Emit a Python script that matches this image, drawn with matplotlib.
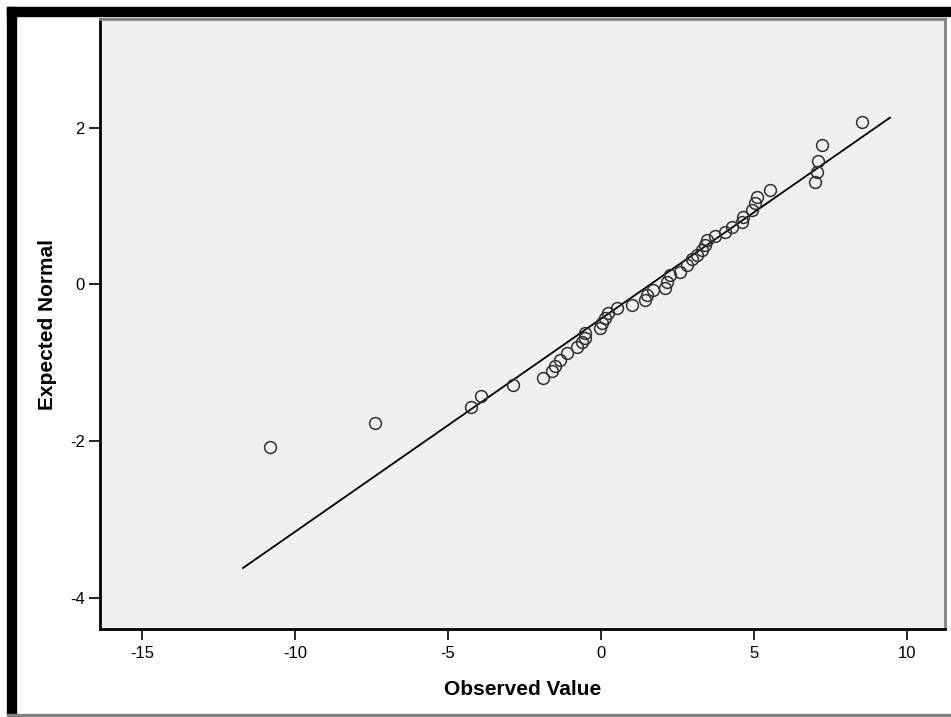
import matplotlib
matplotlib.use("Agg")
import matplotlib.pyplot as plt
from matplotlib.patches import Rectangle

plt.rcParams['font.family'] = ['Liberation Sans', 'DejaVu Sans']
plt.rcParams['axes.unicode_minus'] = False

observed = [-10.82, -7.39, -4.25, -3.92, -2.88, -1.90, -1.60, -1.50, -1.34, -1.11,
            -0.78, -0.62, -0.52, -0.52, -0.03, 0.03, 0.13, 0.23, 0.52, 1.01,
            1.44, 1.50, 1.70, 2.09, 2.16, 2.25, 2.58, 2.81, 2.97, 3.14,
            3.30, 3.40, 3.46, 3.73, 4.05, 4.28, 4.61, 4.64, 4.93, 5.03,
            5.10, 5.52, 6.99, 7.06, 7.09, 7.22, 8.53]
expected = [-2.07, -1.77, -1.57, -1.42, -1.29, -1.19, -1.11, -1.04, -0.96, -0.87,
            -0.80, -0.74, -0.68, -0.62, -0.55, -0.49, -0.43, -0.36, -0.30, -0.26,
            -0.20, -0.13, -0.07, -0.04, 0.03, 0.12, 0.16, 0.25, 0.32, 0.38,
            0.44, 0.51, 0.57, 0.62, 0.67, 0.74, 0.80, 0.86, 0.95, 1.04,
            1.12, 1.21, 1.31, 1.44, 1.58, 1.78, 2.08]

# reference line: normal with this mean / sd
obs_mean = 1.61
obs_sd = 3.676
line_x = [-11.7, 9.44]

x_ticks = [-15, -10, -5, 0, 5, 10]
y_ticks = [-4, -2, 0, 2]

fig = plt.figure(figsize=(9.51, 7.17), dpi=100)
ax = fig.add_axes([0.1052, 0.1227, 0.8885, 0.8508])
ax.set_facecolor('#f0f0f0')

line_y = [(v - obs_mean) / obs_sd for v in line_x]
ax.plot(line_x, line_y, color='black', lw=1.3, zorder=2)
ax.plot(observed, expected, 'o', ms=8.5, mfc='none', mec='#303030', mew=1.1, zorder=3)

ax.set_xlim(-16.37, 11.24)
ax.set_ylim(-4.40, 3.39)
ax.set_xticks(x_ticks)
ax.set_yticks(y_ticks)
ax.tick_params(direction='out', length=8, width=1.2, labelsize=12, colors='black', pad=4)
ax.tick_params(axis='y', pad=3)

for s in ['left', 'bottom']:
    ax.spines[s].set_color('black')
    ax.spines[s].set_linewidth(2)
for s in ['top', 'right']:
    ax.spines[s].set_color('#808080')
    ax.spines[s].set_linewidth(2)

ax.set_xlabel('Observed Value', fontsize=15, fontweight='bold', labelpad=14)
ax.set_ylabel('Expected Normal', fontsize=15, fontweight='bold')
ax.yaxis.set_label_coords(-0.051, 0.5)

# frame around the screenshot
fig.patches.append(Rectangle((7 / 951, 1 - 16 / 717), 1, 9 / 717, transform=fig.transFigure,
                             color='black', zorder=5))
fig.patches.append(Rectangle((7 / 951, 1 - 715 / 717), 9 / 951, 708 / 717, transform=fig.transFigure,
                             color='black', zorder=5))
fig.patches.append(Rectangle((7 / 951, 1 - 716 / 717), 1, 2 / 717, transform=fig.transFigure,
                             color='#808080', zorder=5))

fig.savefig('out.png', dpi=100)
